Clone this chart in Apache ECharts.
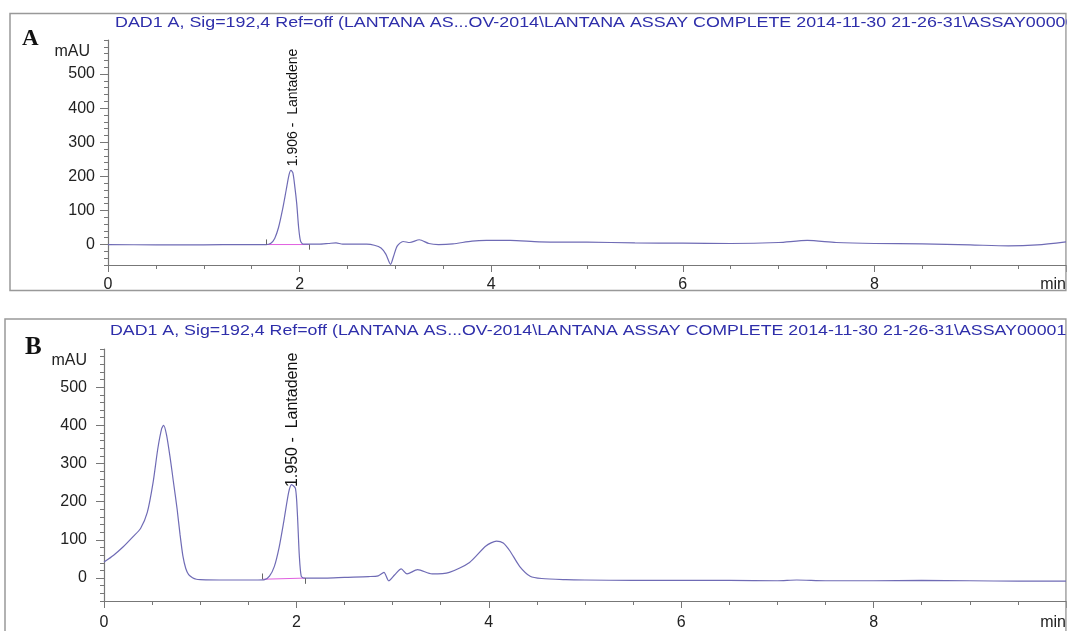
<!DOCTYPE html>
<html>
<head>
<meta charset="utf-8">
<script src="https://cdn.jsdelivr.net/npm/echarts@6/dist/echarts.min.js"></script>
<style>html,body{margin:0;padding:0;background:#fff}#c{width:1070px;height:631px}</style>
</head>
<body>
<div id="c"></div>
<script>
// ---- data ----
const titleA = 'DAD1 A, Sig=192,4 Ref=off (LANTANA AS...OV-2014\\LANTANA ASSAY COMPLETE 2014-11-30 21-26-31\\ASSAY00000';
const titleB = 'DAD1 A, Sig=192,4 Ref=off (LANTANA AS...OV-2014\\LANTANA ASSAY COMPLETE 2014-11-30 21-26-31\\ASSAY00001';
const aTime = [0,0.5,1.0,1.4,1.6,1.65,1.7,1.74,1.78,1.82,1.86,1.89,1.91,1.93,1.95,1.97,1.99,2.01,2.04,2.1,2.2,2.3,2.38,2.45,2.6,2.7,2.78,2.85,2.9,2.95,2.98,3.02,3.08,3.15,3.25,3.35,3.45,3.6,3.8,3.95,4.2,4.5,5.0,5.5,6.0,6.5,7.0,7.3,7.6,8.0,8.5,9.0,9.4,9.7,10.0];
const aSignal = [0,-1,-1,0,0,0,4,18,50,100,160,205,218,210,170,120,50,10,1,1,1,3,5,1,1,1,-2,-10,-28,-58,-35,-4,9,6,14,3,0,2,10,12,12,8,7,5,4,3,6,12,6,3,2,-1,-4,-1,8];
const bTime = [0,0.1,0.2,0.3,0.38,0.45,0.51,0.56,0.6,0.62,0.65,0.69,0.72,0.76,0.79,0.82,0.85,0.88,0.92,0.96,1.0,1.2,1.4,1.6,1.67,1.72,1.77,1.82,1.87,1.92,1.95,1.99,2.01,2.03,2.05,2.08,2.1,2.3,2.5,2.75,2.85,2.91,2.96,3.02,3.09,3.15,3.26,3.41,3.59,3.8,3.97,4.08,4.15,4.22,4.32,4.43,4.55,4.8,5.0,5.5,6.0,6.5,7.0,7.2,7.5,8.0,8.5,9.0,9.5,10.0];
const bSignal = [42,60,82,108,130,172,250,340,392,400,375,311,255,181,115,58,25,9,1,-3,-4,-5,-5,-5,-4,5,30,80,150,225,245,235,170,60,5,0,0,0,2,4,6,15,-7,8,24,11,22,11,15,41,84,97,92,71,31,5,-1,-4,-5,-6,-6,-6,-7,-5,-7,-7,-6,-7,-8,-8];
const peakA = {label: '1.906 -  Lantadene', time: 1.93, value: 218};
const peakB = {label: '1.950 -  Lantadene', time: 1.965, value: 228};
const baseA = [[1.65, 0], [2.1, 0]];
const baseB = [[1.65, -3], [2.09, 0]];
const xMajor = [0, 2, 4, 6, 8, 10];
const xMinor = [0,0.5,1,1.5,2,2.5,3,3.5,4,4.5,5,5.5,6,6.5,7,7.5,8,8.5,9,9.5,10];
const yMajor = [0, 100, 200, 300, 400, 500];
const yMinor = [-60,-40,-20,0,20,40,60,80,100,120,140,160,180,200,220,240,260,280,300,320,340,360,380,400,420,440,460,480,500,520,540,560,580,600];
const yMin = -60, yMax = 600, xMin = 0, xMax = 10;

const FONT = '"Liberation Sans", Arial, sans-serif';
const AX = '#777';
const LINE = '#6f6bb5';
const zip = (t, v) => t.map((x, i) => [x, v[i]]);

function xAxes(grid, margin) {
  return [
    { gridIndex: grid, type: 'value', min: xMin, max: xMax, position: 'bottom',
      axisLine: { onZero: false, lineStyle: { color: AX, width: 1.2 } },
      axisTick: { customValues: xMajor, length: 7, lineStyle: { color: AX } },
      axisLabel: { customValues: xMajor, formatter: v => v === 10 ? 'min' : String(v),
        alignMaxLabel: 'right', fontSize: 16, color: '#222', fontFamily: FONT, margin: margin },
      splitLine: { show: false } },
    { gridIndex: grid, type: 'value', min: xMin, max: xMax, position: 'bottom',
      axisLine: { show: false, onZero: false },
      axisTick: { customValues: xMinor, length: 4, lineStyle: { color: AX } },
      axisLabel: { show: false }, splitLine: { show: false } }
  ];
}
function yAxes(grid, margin, pad) {
  return [
    { gridIndex: grid, type: 'value', min: yMin, max: yMax, position: 'left',
      name: 'mAU', nameLocation: 'end', nameGap: -12,
      nameTextStyle: { align: 'right', verticalAlign: 'middle', padding: [0, pad, 0, 0], fontSize: 16, color: '#222', fontFamily: FONT },
      axisLine: { onZero: false, lineStyle: { color: AX, width: 1.2 } },
      axisTick: { customValues: yMajor, length: 8, lineStyle: { color: AX } },
      axisLabel: { customValues: yMajor, fontSize: 16, color: '#222', fontFamily: FONT, margin: margin },
      splitLine: { show: false } },
    { gridIndex: grid, type: 'value', min: yMin, max: yMax, position: 'left',
      axisLine: { show: false, onZero: false },
      axisTick: { customValues: yMinor, length: 4, lineStyle: { color: AX } },
      axisLabel: { show: false }, splitLine: { show: false } }
  ];
}
function traceSeries(xi, yi, time, sig, peak, base, labelSize) {
  return [
    { type: 'line', xAxisIndex: xi, yAxisIndex: yi, data: zip(time, sig), showSymbol: false,
      smooth: 0.25, lineStyle: { color: LINE, width: 1.2 }, silent: true, z: 3,
      markPoint: { symbol: 'circle', symbolSize: 0, silent: true,
        data: [{ coord: [peak.time, peak.value],
          label: { show: true, formatter: peak.label, position: 'top', distance: 4, rotate: 90,
            align: 'left', verticalAlign: 'middle', fontSize: labelSize, color: '#111', fontFamily: FONT } }] } },
    { type: 'line', xAxisIndex: xi, yAxisIndex: yi, data: base, showSymbol: false,
      lineStyle: { color: '#e060e0', width: 1 }, silent: true, z: 2,
      markLine: { symbol: 'none', silent: true, label: { show: false },
        lineStyle: { color: '#666', width: 1, type: 'solid' },
        data: [[{ coord: [base[0][0], base[0][1]] }, { coord: [base[0][0], base[0][1] + 15] }],
               [{ coord: [base[1][0], base[1][1]] }, { coord: [base[1][0], base[1][1] - 15] }]] } }
  ];
}

const chart = echarts.init(document.getElementById('c'), null, { renderer: 'canvas' });
chart.setOption({
  animation: false,
  backgroundColor: '#fff',
  graphic: [
    { type: 'rect', shape: { x: 10, y: 13.5, width: 1056, height: 277 }, style: { fill: null, stroke: '#999', lineWidth: 1.5 }, silent: true },
    { type: 'rect', shape: { x: 5, y: 319, width: 1061, height: 330 }, style: { fill: null, stroke: '#999', lineWidth: 1.5 }, silent: true },
    { type: 'text', x: 115, y: 15, scaleX: 1.19, silent: true,
      style: { text: titleA, font: '15px ' + FONT, fill: '#2e2eaa', textVerticalAlign: 'top' } },
    { type: 'text', x: 110, y: 323, scaleX: 1.185, silent: true,
      style: { text: titleB, font: '15px ' + FONT, fill: '#2e2eaa', textVerticalAlign: 'top' } },
    { type: 'rect', shape: { x: 1066.8, y: 0, width: 10, height: 631 }, style: { fill: '#fff' }, silent: true, z: 50 },
    { type: 'text', left: 22, top: 28, style: { text: 'A', font: 'bold 23px "Liberation Serif", "Times New Roman", serif', fill: '#111' } },
    { type: 'text', left: 25, top: 335, style: { text: 'B', font: 'bold 25px "Liberation Serif", "Times New Roman", serif', fill: '#111' } }
  ],
  grid: [
    { left: 108, right: 4, top: 40, height: 225 },
    { left: 104, right: 4, top: 349, height: 253 }
  ],
  xAxis: [...xAxes(0, 12), ...xAxes(1, 14)],
  yAxis: [...yAxes(0, 13, 18), ...yAxes(1, 17, 17)],
  series: [
    ...traceSeries(0, 0, aTime, aSignal, peakA, baseA, 14),
    ...traceSeries(2, 2, bTime, bSignal, peakB, baseB, 16)
  ]
});
</script>
</body>
</html>
